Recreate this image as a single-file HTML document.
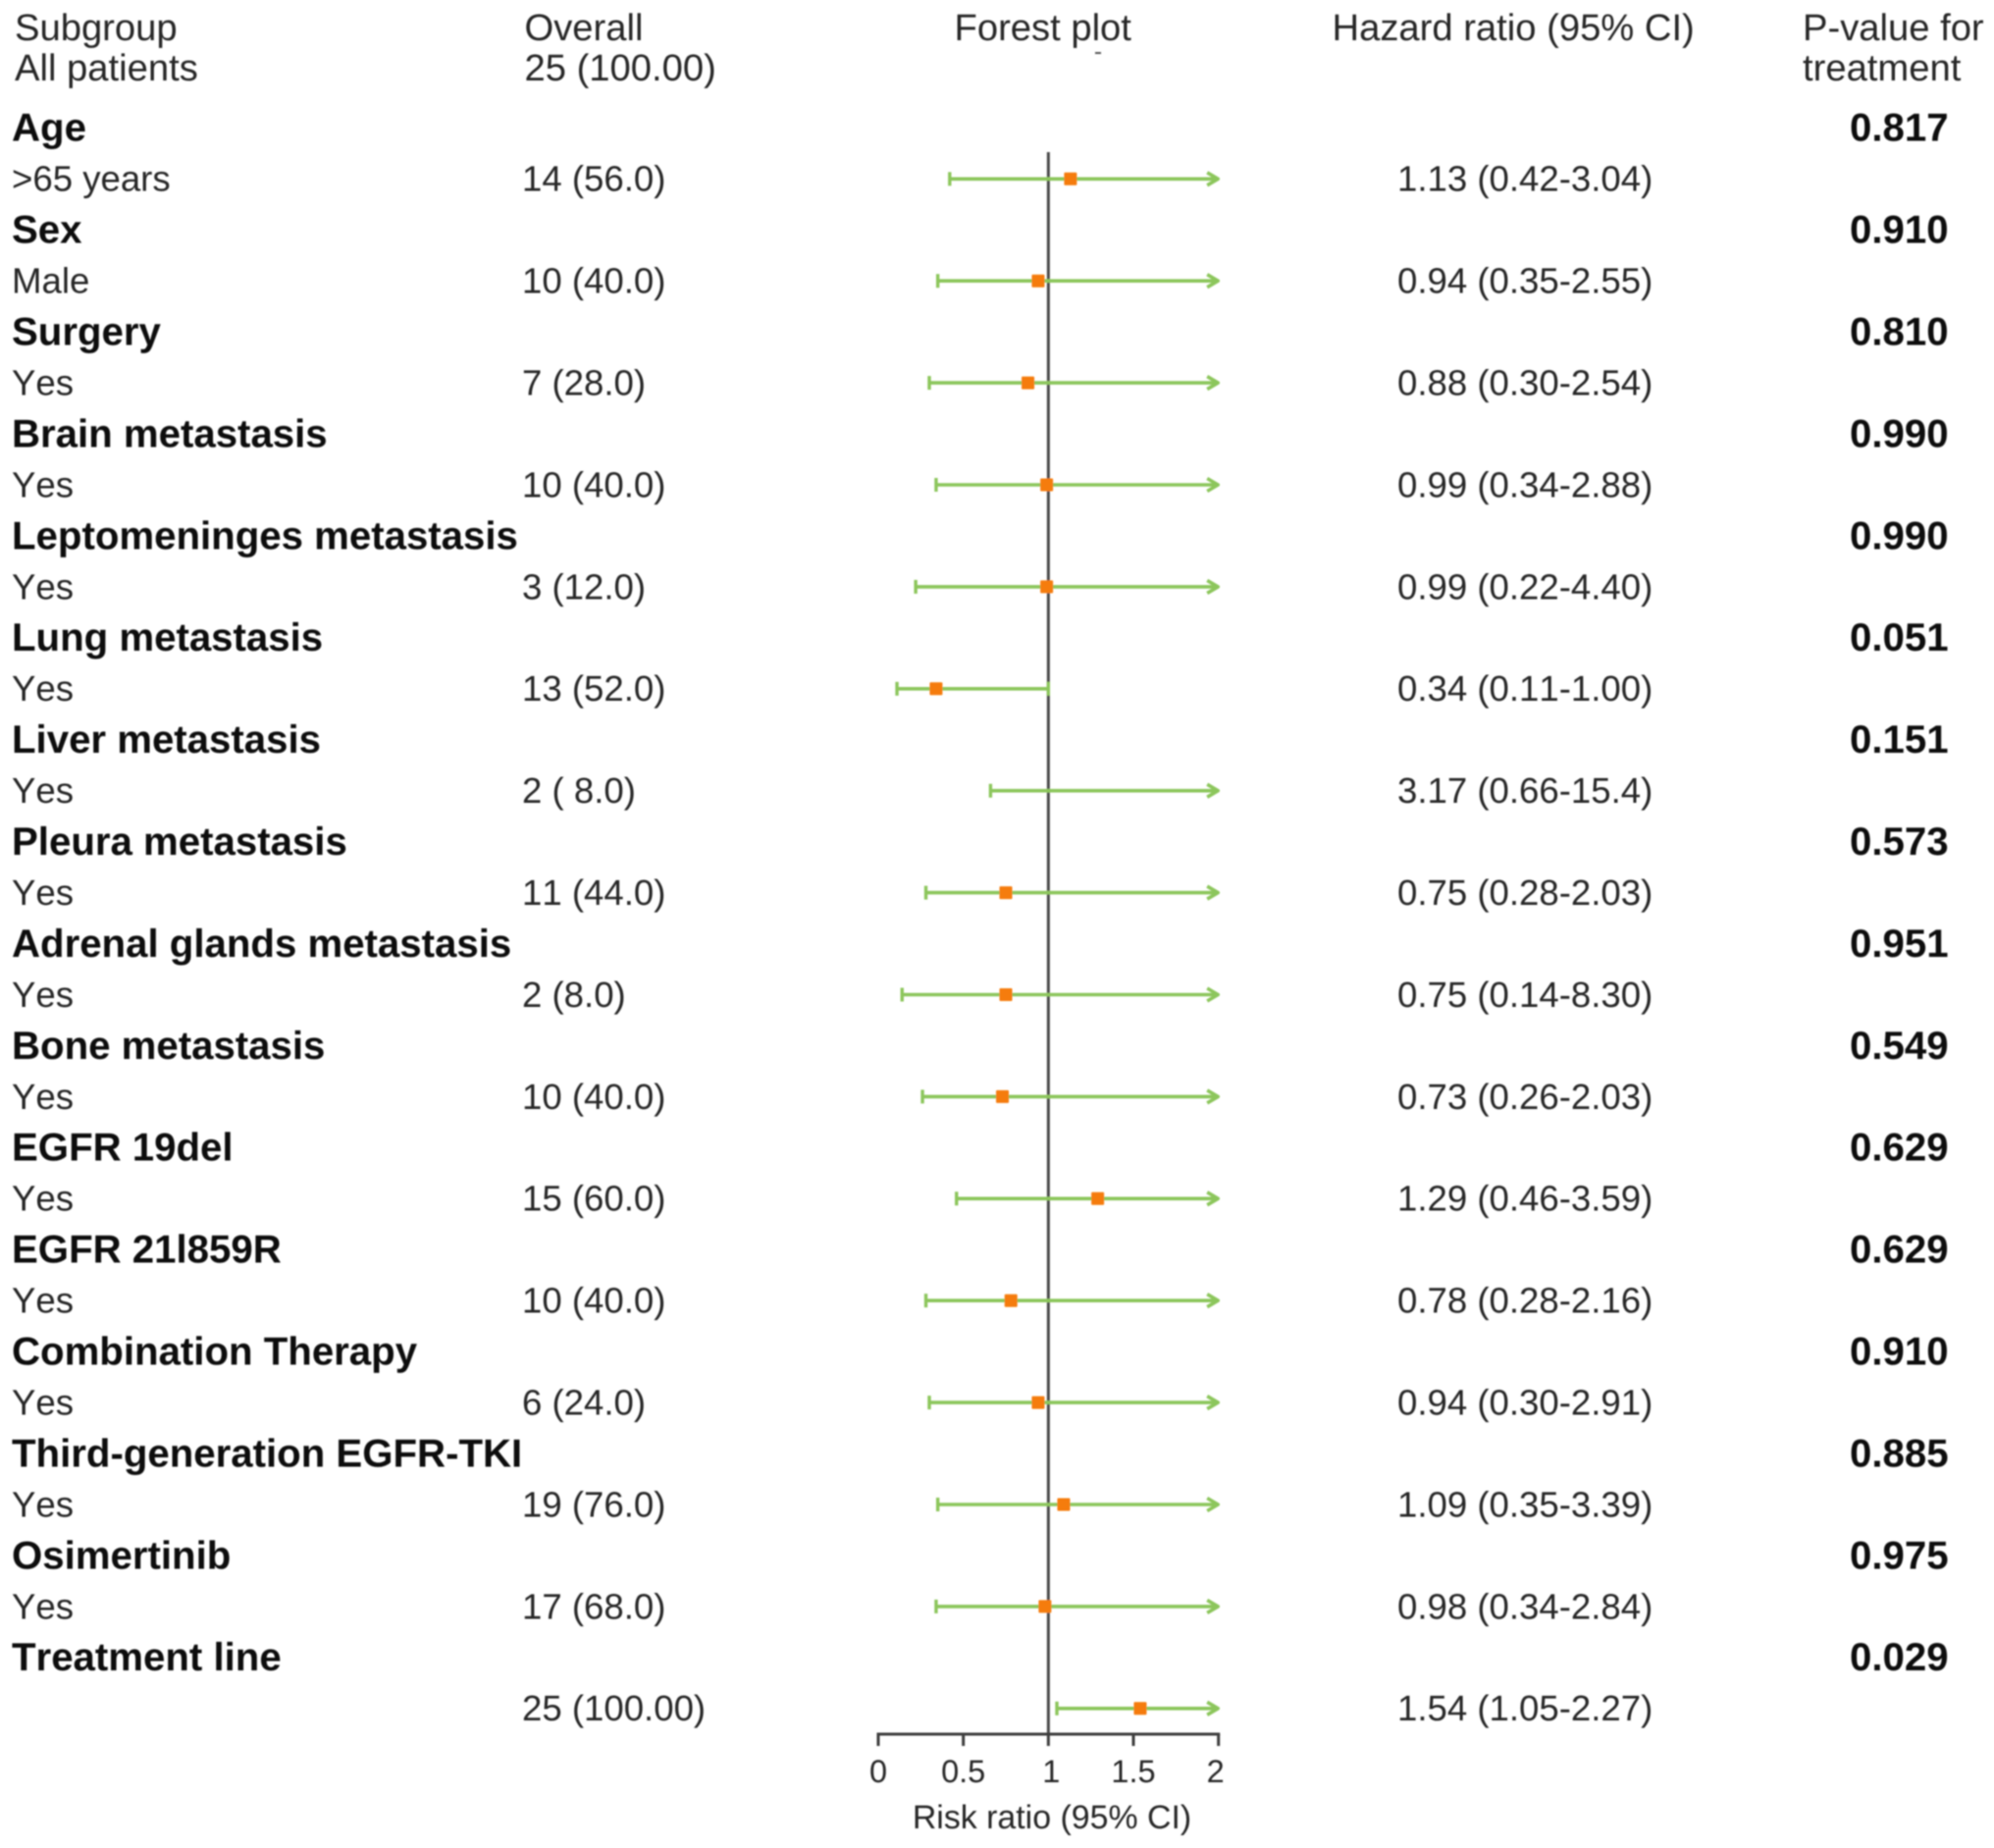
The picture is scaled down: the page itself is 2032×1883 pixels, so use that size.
<!DOCTYPE html>
<html lang="en">
<head>
<meta charset="utf-8">
<title>Forest plot</title>
<style>
html,body{margin:0;padding:0;background:#fff;}
svg{display:block;}
text{font-family:"Liberation Sans",sans-serif;fill:#262626;font-kerning:none;text-rendering:geometricPrecision;}
.head{font-size:38.2px;}
.norm{font-size:36.6px;}
.bold{font-size:40.2px;font-weight:bold;fill:#111;}
.tick{font-size:32.5px;}
.axt{font-size:33.9px;}
</style>
</head>
<body>
<svg id="chart" width="2032" height="1883" viewBox="0 0 2032 1883" xmlns="http://www.w3.org/2000/svg">
<defs><filter id="soft" x="-2%" y="-2%" width="104%" height="104%"><feGaussianBlur stdDeviation="0.7"/></filter></defs>
<g id="root" filter="url(#soft)">
<text class="head" x="15" y="41">Subgroup</text>
<text class="head" x="15" y="82">All patients</text>
<text class="head" x="534.5" y="41">Overall</text>
<text class="head" x="534.5" y="82">25 (100.00)</text>
<text class="head" x="972.5" y="41">Forest plot</text>
<rect x="1116" y="53" width="6" height="2" fill="#555"/>
<text class="head" x="1357.5" y="41">Hazard ratio (95% CI)</text>
<text class="head" x="1837" y="41">P-value for</text>
<text class="head" x="1837" y="82">treatment</text>
</g>
</svg>
<script>
const groups = ["Age","Sex","Surgery","Brain metastasis","Leptomeninges metastasis","Lung metastasis","Liver metastasis","Pleura metastasis","Adrenal glands metastasis","Bone metastasis","EGFR 19del","EGFR 21l859R","Combination Therapy","Third-generation EGFR-TKI","Osimertinib","Treatment line"];
const levels = [">65 years","Male","Yes","Yes","Yes","Yes","Yes","Yes","Yes","Yes","Yes","Yes","Yes","Yes","Yes",""];
const counts = ["14 (56.0)","10 (40.0)","7 (28.0)","10 (40.0)","3 (12.0)","13 (52.0)","2 ( 8.0)","11 (44.0)","2 (8.0)","10 (40.0)","15 (60.0)","10 (40.0)","6 (24.0)","19 (76.0)","17 (68.0)","25 (100.00)"];
const hr = [1.13,0.94,0.88,0.99,0.99,0.34,3.17,0.75,0.75,0.73,1.29,0.78,0.94,1.09,0.98,1.54];
const lower = [0.42,0.35,0.30,0.34,0.22,0.11,0.66,0.28,0.14,0.26,0.46,0.28,0.30,0.35,0.34,1.05];
const upper = [3.04,2.55,2.54,2.88,4.40,1.00,15.4,2.03,8.30,2.03,3.59,2.16,2.91,3.39,2.84,2.27];
const hrLabels = ["1.13 (0.42-3.04)","0.94 (0.35-2.55)","0.88 (0.30-2.54)","0.99 (0.34-2.88)","0.99 (0.22-4.40)","0.34 (0.11-1.00)","3.17 (0.66-15.4)","0.75 (0.28-2.03)","0.75 (0.14-8.30)","0.73 (0.26-2.03)","1.29 (0.46-3.59)","0.78 (0.28-2.16)","0.94 (0.30-2.91)","1.09 (0.35-3.39)","0.98 (0.34-2.84)","1.54 (1.05-2.27)"];
const pValues = ["0.817","0.910","0.810","0.990","0.990","0.051","0.151","0.573","0.951","0.549","0.629","0.629","0.910","0.885","0.975","0.029"];
const xTicks = [0,0.5,1,1.5,2];
const xTickLabels = ["0","0.5","1","1.5","2"];

const NS = "http://www.w3.org/2000/svg";
const root = document.getElementById("root");
const axisMin = 0, axisMax = 2, axisLeft = 895, axisRight = 1241.7;
const xScale = v => axisLeft + (v - axisMin) / (axisMax - axisMin) * (axisRight - axisLeft);
const markerY = i => 182.3 + i * 103.9;
const axisY = 1767;

function make(tag, attrs, parent) {
  const el = document.createElementNS(NS, tag);
  for (const k in attrs) el.setAttribute(k, attrs[k]);
  (parent || root).appendChild(el);
  return el;
}

groups.forEach((name, i) => {
  const gy = markerY(i) - 38.6;
  const ty = markerY(i) + 12.4;

  const groupLabel = make("text", {class:"bold", x:12, y:gy});
  groupLabel.textContent = name;
  
  

  const pLabel = make("text", {class:"bold", x:1885, y:gy});
  pLabel.textContent = pValues[i];
  
  

  if (levels[i]) {
    const levelLabel = make("text", {class:"norm", x:12, y:ty});
    levelLabel.textContent = levels[i];
    
    
  }

  const countLabel = make("text", {class:"norm", x:532, y:ty});
  countLabel.textContent = counts[i];
  
  

  const hrLabel = make("text", {class:"norm", x:1424, y:ty});
  hrLabel.textContent = hrLabels[i];
  
  
});

// Reference line at the null value
const refLine = make("line", {x1:xScale(1), x2:xScale(1), y1:155, y2:axisY, stroke:"#4a4a4a", "stroke-width":3});



// X axis
const xAxis = make("line", {x1:xScale(axisMin)-1.5, x2:xScale(axisMax)+1.5, y1:axisY, y2:axisY, stroke:"#3c3c3c", "stroke-width":3});



xTicks.forEach((t, i) => {
  const tick = make("line", {x1:xScale(t), x2:xScale(t), y1:axisY, y2:axisY+12, stroke:"#3c3c3c", "stroke-width":3});
  
  
  const shift = t === axisMax ? -3 : (t === 1 ? 3 : 0);
  const lab = make("text", {class:"tick", x:xScale(t)+shift, y:1816, "text-anchor":"middle"});
  lab.textContent = xTickLabels[i];
  
  
});

const xTitle = make("text", {class:"axt", x:1072, y:1863, "text-anchor":"middle"});
xTitle.textContent = "Risk ratio (95% CI)";



// Confidence intervals and point estimates
const green = "#8cc65c";
hr.forEach((v, i) => {
  const y = markerY(i);
  const x0 = xScale(Math.max(lower[i], axisMin));
  const clipped = upper[i] > axisMax;
  const x1 = clipped ? xScale(axisMax) : xScale(upper[i]);

  const ci = make("line", {x1:x0, x2:clipped ? x1 - 4 : x1, y1:y, y2:y, stroke:green, "stroke-width":3.6});
  
  

  const capL = make("line", {x1:x0, x2:x0, y1:y-7, y2:y+7, stroke:green, "stroke-width":3.4});
  
  

  if (clipped) {
    const tip = x1 - 0.5;
    const arrow = make("path", {d:`M${tip-11} ${y-6.5} L${tip} ${y} L${tip-11} ${y+6.5}`, fill:"none", stroke:green, "stroke-width":3.6, "stroke-linejoin":"round"});
    
    
  } else {
    const capR = make("line", {x1:x1, x2:x1, y1:y-7, y2:y+7, stroke:green, "stroke-width":3.4});
    
    
  }

  if (v <= axisMax) {
    const sq = make("rect", {x:xScale(v)-6.5, y:y-6.5, width:13, height:13, rx:1, fill:"#f57c0c"});
    
    
  }
});
</script>
</body>
</html>
